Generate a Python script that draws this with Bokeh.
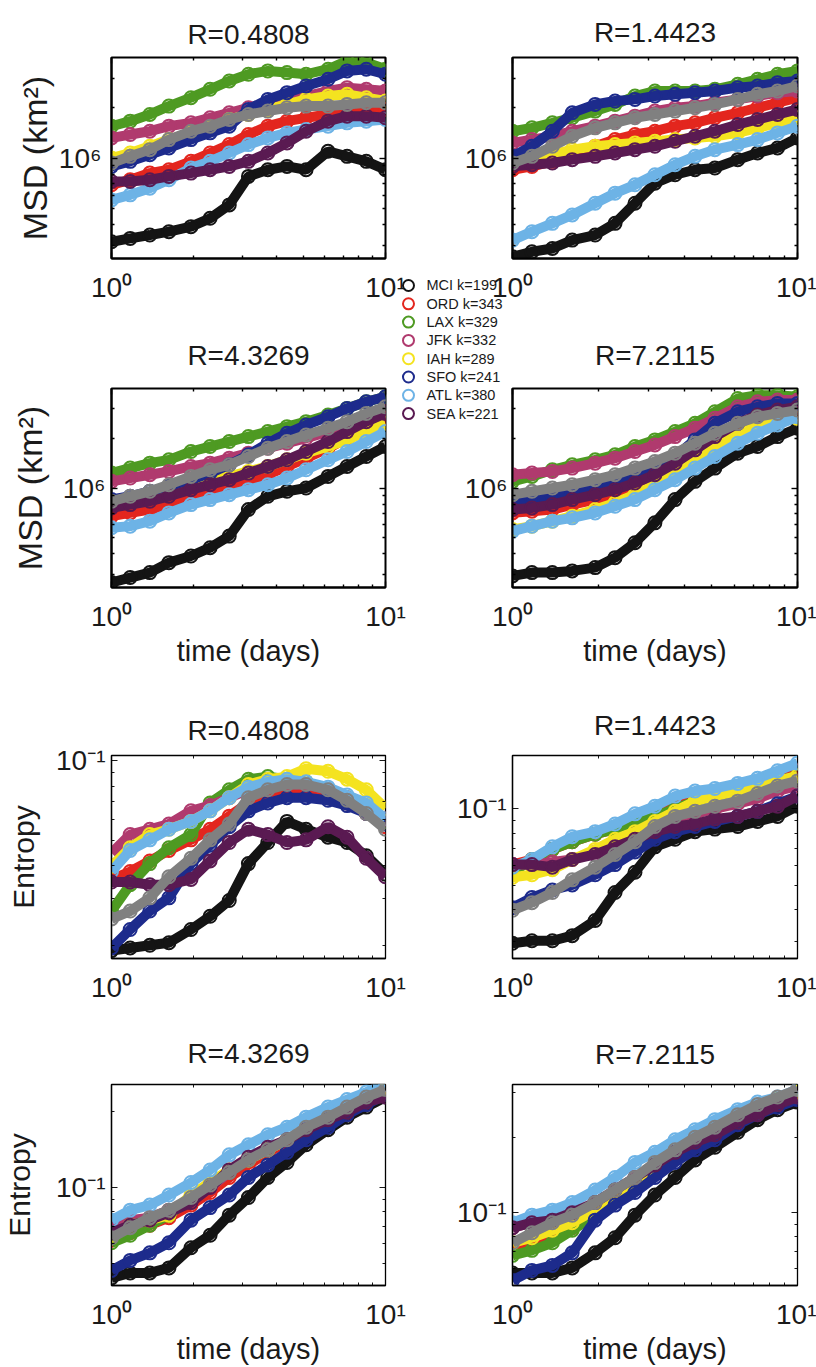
from bokeh.plotting import figure
from bokeh.models import Range1d, FixedTicker, CustomJSTickFormatter, GridBox, LogAxis
from bokeh.core.properties import value
from bokeh.embed import file_html
from bokeh.resources import INLINE

# time axis samples (days)
DAYS = [1.0, 1.17, 1.38, 1.62, 1.95, 2.29, 2.69, 3.16, 3.72, 4.37, 5.13, 6.17, 7.24, 8.51, 10.0]

SERIES = ["MCI", "ORD", "LAX", "JFK", "IAH", "SFO", "ATL", "SEA", "OTHER"]
AIRPORTS = ["MCI", "ORD", "LAX", "JFK", "IAH", "SFO", "ATL", "SEA"]
DEGREE = {"MCI": 199, "ORD": 343, "LAX": 329, "JFK": 332, "IAH": 289, "SFO": 241, "ATL": 380, "SEA": 221}
COLORS = {"MCI": "#141414", "ORD": "#e3261e", "LAX": "#4e9a22", "JFK": "#b03a6e", "IAH": "#f4e320",
          "SFO": "#1d2b8c", "ATL": "#6db3e6", "SEA": "#5a1a52", "OTHER": "#808080"}
R_LABELS = ["R=0.4808", "R=1.4423", "R=4.3269", "R=7.2115"]

# log10 of MSD (km^2)
MSD_LOG10_R04808 = {
    "MCI": [5.50, 5.52, 5.54, 5.56, 5.59, 5.64, 5.72, 5.89, 5.93, 5.95, 5.93, 6.04, 6.01, 5.98, 5.93],
    "ORD": [5.84, 5.87, 5.91, 5.93, 5.98, 6.03, 6.08, 6.14, 6.19, 6.22, 6.24, 6.26, 6.27, 6.28, 6.29],
    "LAX": [6.19, 6.22, 6.26, 6.31, 6.36, 6.41, 6.46, 6.50, 6.52, 6.51, 6.50, 6.53, 6.58, 6.57, 6.53],
    "JFK": [6.12, 6.14, 6.16, 6.19, 6.21, 6.24, 6.27, 6.30, 6.33, 6.35, 6.37, 6.40, 6.42, 6.41, 6.40],
    "IAH": [6.00, 6.03, 6.07, 6.11, 6.15, 6.18, 6.23, 6.26, 6.29, 6.32, 6.35, 6.37, 6.38, 6.36, 6.34],
    "SFO": [5.95, 5.98, 6.02, 6.06, 6.11, 6.15, 6.19, 6.29, 6.35, 6.39, 6.43, 6.47, 6.52, 6.53, 6.50],
    "ATL": [5.75, 5.78, 5.82, 5.87, 5.94, 5.98, 6.03, 6.08, 6.12, 6.15, 6.17, 6.19, 6.21, 6.22, 6.23],
    "SEA": [5.86, 5.86, 5.87, 5.89, 5.91, 5.93, 5.95, 5.98, 6.03, 6.09, 6.16, 6.22, 6.25, 6.25, 6.24],
    "OTHER": [5.97, 6.01, 6.05, 6.11, 6.16, 6.19, 6.23, 6.26, 6.28, 6.30, 6.31, 6.31, 6.32, 6.33, 6.33],
}
MSD_LOG10_R14423 = {
    "MCI": [5.41, 5.44, 5.46, 5.51, 5.54, 5.61, 5.73, 5.85, 5.90, 5.93, 5.94, 5.99, 6.03, 6.06, 6.12],
    "ORD": [5.93, 5.95, 5.98, 6.02, 6.07, 6.11, 6.14, 6.16, 6.19, 6.21, 6.24, 6.27, 6.30, 6.33, 6.36],
    "LAX": [6.16, 6.18, 6.21, 6.24, 6.28, 6.32, 6.37, 6.40, 6.40, 6.40, 6.41, 6.44, 6.47, 6.50, 6.52],
    "JFK": [6.09, 6.11, 6.13, 6.16, 6.19, 6.22, 6.25, 6.28, 6.30, 6.31, 6.33, 6.35, 6.37, 6.39, 6.40],
    "IAH": [5.97, 5.99, 6.02, 6.05, 6.07, 6.08, 6.09, 6.10, 6.11, 6.12, 6.13, 6.15, 6.18, 6.21, 6.24],
    "SFO": [6.01, 6.07, 6.16, 6.27, 6.32, 6.34, 6.35, 6.37, 6.38, 6.39, 6.40, 6.42, 6.43, 6.45, 6.46],
    "ATL": [5.51, 5.56, 5.61, 5.66, 5.73, 5.79, 5.84, 5.90, 5.96, 6.01, 6.05, 6.08, 6.11, 6.15, 6.19],
    "SEA": [5.95, 5.96, 5.97, 5.99, 6.01, 6.03, 6.05, 6.07, 6.10, 6.13, 6.16, 6.20, 6.23, 6.26, 6.29],
    "OTHER": [5.97, 6.01, 6.07, 6.13, 6.18, 6.21, 6.24, 6.26, 6.28, 6.30, 6.32, 6.35, 6.38, 6.40, 6.43],
}
MSD_LOG10_R43269 = {
    "MCI": [5.43, 5.46, 5.49, 5.55, 5.59, 5.64, 5.71, 5.87, 5.95, 5.98, 6.00, 6.07, 6.13, 6.19, 6.25],
    "ORD": [5.83, 5.85, 5.87, 5.90, 5.94, 5.97, 6.00, 6.04, 6.08, 6.13, 6.18, 6.24, 6.30, 6.36, 6.42],
    "LAX": [6.09, 6.12, 6.15, 6.17, 6.22, 6.25, 6.28, 6.31, 6.34, 6.37, 6.40, 6.44, 6.48, 6.52, 6.55],
    "JFK": [6.04, 6.06, 6.08, 6.10, 6.13, 6.15, 6.18, 6.21, 6.24, 6.27, 6.30, 6.34, 6.38, 6.42, 6.46],
    "IAH": [5.91, 5.93, 5.95, 5.98, 6.01, 6.04, 6.07, 6.10, 6.13, 6.17, 6.21, 6.25, 6.29, 6.34, 6.39],
    "SFO": [5.93, 5.95, 5.98, 6.01, 6.05, 6.09, 6.14, 6.20, 6.27, 6.33, 6.38, 6.43, 6.48, 6.52, 6.55],
    "ATL": [5.76, 5.77, 5.80, 5.85, 5.90, 5.93, 5.96, 5.99, 6.02, 6.06, 6.11, 6.17, 6.22, 6.28, 6.34],
    "SEA": [5.88, 5.90, 5.92, 5.95, 5.99, 6.02, 6.05, 6.09, 6.13, 6.17, 6.22, 6.28, 6.34, 6.40, 6.45],
    "OTHER": [5.92, 5.95, 5.98, 6.02, 6.07, 6.11, 6.14, 6.19, 6.24, 6.28, 6.32, 6.36, 6.40, 6.45, 6.49],
}
MSD_LOG10_R72115 = {
    "MCI": [5.47, 5.49, 5.49, 5.50, 5.52, 5.58, 5.67, 5.79, 5.93, 6.04, 6.12, 6.21, 6.25, 6.31, 6.36],
    "ORD": [5.85, 5.86, 5.87, 5.90, 5.93, 5.96, 6.00, 6.05, 6.12, 6.20, 6.28, 6.36, 6.41, 6.44, 6.45],
    "LAX": [6.04, 6.07, 6.11, 6.14, 6.17, 6.20, 6.25, 6.29, 6.34, 6.39, 6.46, 6.54, 6.56, 6.56, 6.55],
    "JFK": [6.08, 6.09, 6.10, 6.12, 6.15, 6.18, 6.22, 6.26, 6.31, 6.36, 6.42, 6.49, 6.52, 6.53, 6.53],
    "IAH": [5.75, 5.77, 5.80, 5.83, 5.87, 5.91, 5.96, 6.02, 6.09, 6.17, 6.25, 6.33, 6.38, 6.41, 6.42],
    "SFO": [5.93, 5.93, 5.95, 5.97, 6.00, 6.03, 6.07, 6.12, 6.19, 6.29, 6.39, 6.46, 6.49, 6.51, 6.51],
    "ATL": [5.74, 5.77, 5.80, 5.82, 5.85, 5.89, 5.93, 5.99, 6.05, 6.12, 6.19, 6.27, 6.33, 6.38, 6.43],
    "SEA": [5.87, 5.88, 5.90, 5.93, 5.96, 5.99, 6.03, 6.08, 6.15, 6.23, 6.31, 6.39, 6.44, 6.47, 6.49],
    "OTHER": [5.96, 5.98, 6.00, 6.02, 6.05, 6.08, 6.12, 6.16, 6.21, 6.27, 6.33, 6.39, 6.43, 6.45, 6.47],
}

# log10 of entropy
ENT_LOG10_R04808 = {
    "MCI": [-1.72, -1.71, -1.70, -1.69, -1.64, -1.59, -1.53, -1.39, -1.31, -1.23, -1.26, -1.29, -1.31, -1.36, -1.43],
    "ORD": [-1.45, -1.42, -1.38, -1.34, -1.30, -1.26, -1.21, -1.16, -1.13, -1.11, -1.11, -1.13, -1.16, -1.20, -1.25],
    "LAX": [-1.57, -1.47, -1.39, -1.33, -1.28, -1.16, -1.11, -1.07, -1.06, -1.07, -1.08, -1.11, -1.14, -1.18, -1.23],
    "JFK": [-1.35, -1.28, -1.26, -1.24, -1.19, -1.17, -1.14, -1.11, -1.09, -1.09, -1.09, -1.11, -1.14, -1.18, -1.22],
    "IAH": [-1.40, -1.33, -1.28, -1.26, -1.23, -1.19, -1.14, -1.09, -1.07, -1.06, -1.03, -1.04, -1.07, -1.11, -1.18],
    "SFO": [-1.71, -1.64, -1.57, -1.52, -1.39, -1.32, -1.25, -1.19, -1.16, -1.14, -1.14, -1.15, -1.17, -1.20, -1.24],
    "ATL": [-1.42, -1.34, -1.30, -1.26, -1.23, -1.19, -1.14, -1.10, -1.08, -1.07, -1.08, -1.10, -1.13, -1.16, -1.22],
    "SEA": [-1.46, -1.46, -1.47, -1.47, -1.45, -1.38, -1.31, -1.26, -1.28, -1.31, -1.30, -1.25, -1.29, -1.37, -1.44],
    "OTHER": [-1.60, -1.57, -1.52, -1.44, -1.37, -1.30, -1.24, -1.14, -1.11, -1.09, -1.09, -1.11, -1.15, -1.20, -1.26],
}
ENT_LOG10_R14423 = {
    "MCI": [-1.53, -1.52, -1.52, -1.50, -1.44, -1.33, -1.25, -1.15, -1.12, -1.09, -1.08, -1.07, -1.05, -1.03, -0.99],
    "ORD": [-1.22, -1.20, -1.16, -1.13, -1.10, -1.08, -1.04, -1.01, -0.98, -0.96, -0.94, -0.92, -0.90, -0.88, -0.85],
    "LAX": [-1.25, -1.20, -1.16, -1.13, -1.10, -1.08, -1.05, -1.03, -1.00, -0.97, -0.95, -0.93, -0.91, -0.89, -0.87],
    "JFK": [-1.22, -1.22, -1.21, -1.20, -1.17, -1.14, -1.10, -1.07, -1.04, -1.02, -1.00, -0.98, -0.96, -0.93, -0.91],
    "IAH": [-1.27, -1.26, -1.24, -1.20, -1.16, -1.12, -1.09, -1.05, -1.01, -0.97, -0.95, -0.93, -0.91, -0.89, -0.87],
    "SFO": [-1.39, -1.35, -1.32, -1.30, -1.26, -1.22, -1.17, -1.12, -1.09, -1.07, -1.05, -1.03, -1.01, -0.98, -0.95],
    "ATL": [-1.23, -1.20, -1.15, -1.11, -1.09, -1.06, -1.02, -0.99, -0.95, -0.93, -0.92, -0.90, -0.88, -0.85, -0.82],
    "SEA": [-1.22, -1.22, -1.23, -1.20, -1.18, -1.15, -1.12, -1.09, -1.07, -1.06, -1.04, -1.03, -1.01, -0.99, -0.95],
    "OTHER": [-1.40, -1.37, -1.33, -1.28, -1.23, -1.18, -1.13, -1.07, -1.03, -1.01, -0.99, -0.97, -0.94, -0.91, -0.89],
}
ENT_LOG10_R43269 = {
    "MCI": [-1.36, -1.34, -1.34, -1.32, -1.24, -1.19, -1.11, -1.04, -0.96, -0.90, -0.83, -0.77, -0.72, -0.68, -0.64],
    "ORD": [-1.21, -1.18, -1.15, -1.12, -1.07, -1.02, -0.96, -0.91, -0.86, -0.82, -0.78, -0.74, -0.70, -0.66, -0.62],
    "LAX": [-1.22, -1.19, -1.15, -1.11, -1.04, -0.99, -0.94, -0.89, -0.85, -0.81, -0.77, -0.72, -0.68, -0.65, -0.61],
    "JFK": [-1.15, -1.13, -1.12, -1.09, -1.05, -1.00, -0.94, -0.89, -0.85, -0.81, -0.77, -0.72, -0.68, -0.65, -0.61],
    "IAH": [-1.19, -1.15, -1.13, -1.11, -1.03, -0.98, -0.93, -0.89, -0.85, -0.81, -0.77, -0.72, -0.68, -0.65, -0.61],
    "SFO": [-1.33, -1.29, -1.26, -1.22, -1.13, -1.08, -1.03, -0.96, -0.91, -0.86, -0.81, -0.76, -0.71, -0.67, -0.63],
    "ATL": [-1.13, -1.09, -1.07, -1.03, -0.98, -0.93, -0.87, -0.83, -0.79, -0.76, -0.72, -0.68, -0.65, -0.62, -0.59],
    "SEA": [-1.18, -1.15, -1.13, -1.10, -1.06, -1.00, -0.93, -0.88, -0.84, -0.81, -0.77, -0.73, -0.70, -0.66, -0.64],
    "OTHER": [-1.20, -1.16, -1.12, -1.09, -1.04, -0.99, -0.94, -0.89, -0.85, -0.81, -0.76, -0.72, -0.68, -0.64, -0.61],
}
ENT_LOG10_R72115 = {
    "MCI": [-1.24, -1.24, -1.24, -1.22, -1.16, -1.10, -1.01, -0.93, -0.86, -0.79, -0.74, -0.68, -0.63, -0.59, -0.56],
    "ORD": [-1.14, -1.12, -1.09, -1.06, -1.01, -0.95, -0.89, -0.84, -0.78, -0.73, -0.69, -0.64, -0.60, -0.57, -0.53],
    "LAX": [-1.17, -1.15, -1.12, -1.07, -1.01, -0.95, -0.89, -0.83, -0.77, -0.72, -0.67, -0.63, -0.59, -0.55, -0.52],
    "JFK": [-1.06, -1.04, -1.03, -1.01, -0.97, -0.92, -0.87, -0.82, -0.77, -0.72, -0.69, -0.64, -0.60, -0.57, -0.54],
    "IAH": [-1.12, -1.10, -1.07, -1.04, -0.99, -0.94, -0.88, -0.82, -0.76, -0.72, -0.67, -0.63, -0.59, -0.55, -0.52],
    "SFO": [-1.27, -1.23, -1.21, -1.16, -1.03, -0.97, -0.92, -0.86, -0.80, -0.75, -0.71, -0.65, -0.61, -0.58, -0.55],
    "ATL": [-1.04, -1.01, -0.99, -0.96, -0.91, -0.86, -0.80, -0.76, -0.71, -0.67, -0.63, -0.59, -0.56, -0.54, -0.51],
    "SEA": [-1.06, -1.04, -1.03, -1.00, -0.96, -0.91, -0.86, -0.81, -0.76, -0.72, -0.69, -0.64, -0.61, -0.57, -0.54],
    "OTHER": [-1.12, -1.08, -1.04, -1.01, -0.96, -0.91, -0.86, -0.80, -0.75, -0.70, -0.66, -0.61, -0.57, -0.54, -0.51],
}

X_MAJOR = [1, 10]
X_MINOR = [2, 3, 4, 5, 6, 7, 8, 9]
MSD_MAJOR = [1e6]
MSD_MINOR = [2e5, 3e5, 4e5, 5e5, 6e5, 7e5, 8e5, 9e5, 2e6, 3e6, 4e6, 5e6]
ENT_MAJOR = [0.1]
ENT_MINOR = [0.02, 0.03, 0.04, 0.05, 0.06, 0.07, 0.08, 0.09, 0.2, 0.3, 0.4]

FONT = "Liberation Sans"
TXT = "#1a1a1a"

SUP_JS = r"""
const sup = {"-": "\u207b", "0": "\u2070", "1": "\u00b9", "2": "\u00b2", "3": "\u00b3",
             "4": "\u2074", "5": "\u2075", "6": "\u2076", "7": "\u2077", "8": "\u2078", "9": "\u2079"};
const e = Math.round(Math.log10(tick));
let s = "";
for (const c of String(e)) { s += sup[c]; }
return "10" + s;
"""


def mirror_axis(ticker, frame_lw):
    """Tick marks only (no labels) for the top / right edges of the box."""
    ax = LogAxis(ticker=ticker, formatter=CustomJSTickFormatter(code='return "";'),
                 major_tick_in=6, major_tick_out=0, minor_tick_in=3, minor_tick_out=0,
                 major_label_standoff=0, major_label_text_font_size="1px",
                 axis_line_color=None, major_tick_line_color="black", minor_tick_line_color="black",
                 major_tick_line_width=frame_lw * 0.7, minor_tick_line_width=frame_lw * 0.7)
    return ax


def make_panel(data, ylim, ymajor, yminor, title, ylabel, ylabel_size, xlabel, height,
               left, right, top, bottom, frame_lw, title_standoff,
               ytick_standoff, ylabel_standoff):
    p = figure(width=408, height=height, x_axis_type="log", y_axis_type="log",
               x_range=Range1d(1, 10), y_range=Range1d(10 ** ylim[0], 10 ** ylim[1]),
               output_backend="svg", toolbar_location=None,
               min_border_left=left, min_border_right=right,
               min_border_top=top, min_border_bottom=bottom)
    p.title.text = title
    p.title.align = "center"
    p.title.text_font = FONT
    p.title.text_font_size = "28px"
    p.title.text_font_style = "normal"
    p.title.text_color = TXT
    p.title.standoff = title_standoff
    p.xgrid.visible = False
    p.ygrid.visible = False
    p.outline_line_color = "black"
    p.outline_line_width = frame_lw
    p.background_fill_color = "white"
    p.border_fill_color = "white"

    xticker = FixedTicker(ticks=X_MAJOR, minor_ticks=X_MINOR)
    yticker = FixedTicker(ticks=ymajor, minor_ticks=yminor)
    fmt = CustomJSTickFormatter(code=SUP_JS)
    for ax in (p.xaxis[0], p.yaxis[0]):
        ax.formatter = fmt
        ax.major_tick_in = 6
        ax.major_tick_out = 0
        ax.minor_tick_in = 3
        ax.minor_tick_out = 0
        ax.axis_line_color = "black"
        ax.axis_line_width = frame_lw
        ax.major_tick_line_color = "black"
        ax.minor_tick_line_color = "black"
        ax.major_tick_line_width = frame_lw * 0.7
        ax.minor_tick_line_width = frame_lw * 0.7
        ax.major_label_text_font = FONT
        ax.major_label_text_font_size = "28px"
        ax.major_label_text_color = TXT
        ax.axis_label_text_font = FONT
        ax.axis_label_text_font_style = "normal"
        ax.axis_label_text_color = TXT
    p.xaxis[0].ticker = xticker
    p.yaxis[0].ticker = yticker
    p.xaxis[0].major_label_standoff = 13
    p.yaxis[0].major_label_standoff = ytick_standoff
    if xlabel:
        p.xaxis[0].axis_label = xlabel
        p.xaxis[0].axis_label_standoff = 0
        p.xaxis[0].axis_label_text_font_size = "29px"
    if ylabel:
        p.yaxis[0].axis_label = ylabel
        p.yaxis[0].axis_label_standoff = ylabel_standoff
        p.yaxis[0].axis_label_text_font_size = ylabel_size
    p.add_layout(mirror_axis(xticker, frame_lw), "above")
    p.add_layout(mirror_axis(yticker, frame_lw), "right")

    for name in SERIES:
        c = COLORS[name]
        y = [10 ** v for v in data[name]]
        p.line(DAYS, y, line_width=10, line_color=c)
        p.scatter(DAYS, y, marker="circle", size=13, fill_color=None, line_color=c, line_width=2)
    return p


MSD_LABEL = "MSD (km\u00b2)"

p1 = make_panel(MSD_LOG10_R04808, (5.4, 6.6), MSD_MAJOR, MSD_MINOR, R_LABELS[0], MSD_LABEL, "34px", None,
                312, 110, 23, 53, 51, 2, 16, 10, 2)
p2 = make_panel(MSD_LOG10_R14423, (5.4, 6.6), MSD_MAJOR, MSD_MINOR, R_LABELS[1], None, None, None,
                312, 104, 18, 57, 54, 2, 20, 5, 10)
p3 = make_panel(MSD_LOG10_R43269, (5.4, 6.6), MSD_MAJOR, MSD_MINOR, R_LABELS[2], MSD_LABEL, "34px", "time (days)",
                368, 105, 17, 76, 92, 2, 36, 6, 11)
p4 = make_panel(MSD_LOG10_R72115, (5.4, 6.6), MSD_MAJOR, MSD_MINOR, R_LABELS[3], None, None, "time (days)",
                368, 104, 19, 76, 93, 2, 36, 5, 10)
p5 = make_panel(ENT_LOG10_R04808, (-1.75, -0.98), ENT_MAJOR, ENT_MINOR, R_LABELS[0], "Entropy", "30px", None,
                330, 103, 17, 75, 52, 1.3, 20, 6, 13)
p6 = make_panel(ENT_LOG10_R14423, (-1.59, -0.79), ENT_MAJOR, ENT_MINOR, R_LABELS[1], None, None, None,
                330, 101, 19, 75, 52, 1.3, 30, 6, 10)
p7 = make_panel(ENT_LOG10_R43269, (-1.39, -0.59), ENT_MAJOR, ENT_MINOR, R_LABELS[2], "Entropy", "30px", "time (days)",
                357, 103, 17, 74, 78, 1.3, 32, 6, 17)
p8 = make_panel(ENT_LOG10_R72115, (-1.29, -0.49), ENT_MAJOR, ENT_MINOR, R_LABELS[3], None, None, "time (days)",
                357, 100, 19, 73, 79, 1.3, 30, 6, 10)

# shared legend, drawn in its own transparent figure that sits between the two columns
LEGEND_ROW = list(range(len(AIRPORTS)))
LEGEND_TEXT = [f"{n} k={DEGREE[n]}" for n in AIRPORTS]
LEGEND_COLOR = [COLORS[n] for n in AIRPORTS]

pl = figure(width=135, height=153, x_range=Range1d(0, 135), y_range=Range1d(7.65, -0.71),
            output_backend="svg", toolbar_location=None,
            x_axis_location=None, y_axis_location=None,
            min_border_left=0, min_border_right=0, min_border_top=0, min_border_bottom=0)
pl.xgrid.visible = False
pl.ygrid.visible = False
pl.outline_line_color = None
pl.background_fill_alpha = 0
pl.border_fill_alpha = 0
pl.scatter(x=[13] * len(AIRPORTS), y=LEGEND_ROW, marker="circle", size=11, fill_color=None,
           line_color=LEGEND_COLOR, line_width=2)
pl.text(x=[31] * len(AIRPORTS), y=LEGEND_ROW, text=LEGEND_TEXT, text_baseline="middle", text_align="left",
        text_font=value(FONT), text_font_size="14.5px", text_color=TXT)

grid = GridBox(
    children=[
        (p1, 0, 0, 2, 2), (p2, 0, 2, 2, 2),
        (p3, 2, 0, 2, 2), (p4, 2, 2, 2, 2),
        (p5, 4, 0, 1, 2), (p6, 4, 2, 1, 2),
        (p7, 5, 0, 1, 2), (p8, 5, 2, 1, 2),
        (pl, 1, 1, 2, 2),
    ],
    rows=["272px", "40px", "113px", "255px", "330px", "357px"],
    cols=["395px", "13px", "122px", "286px"],
    spacing=0,
)

with open("out.html", "w", encoding="utf-8") as f:
    f.write(file_html(grid, INLINE))
